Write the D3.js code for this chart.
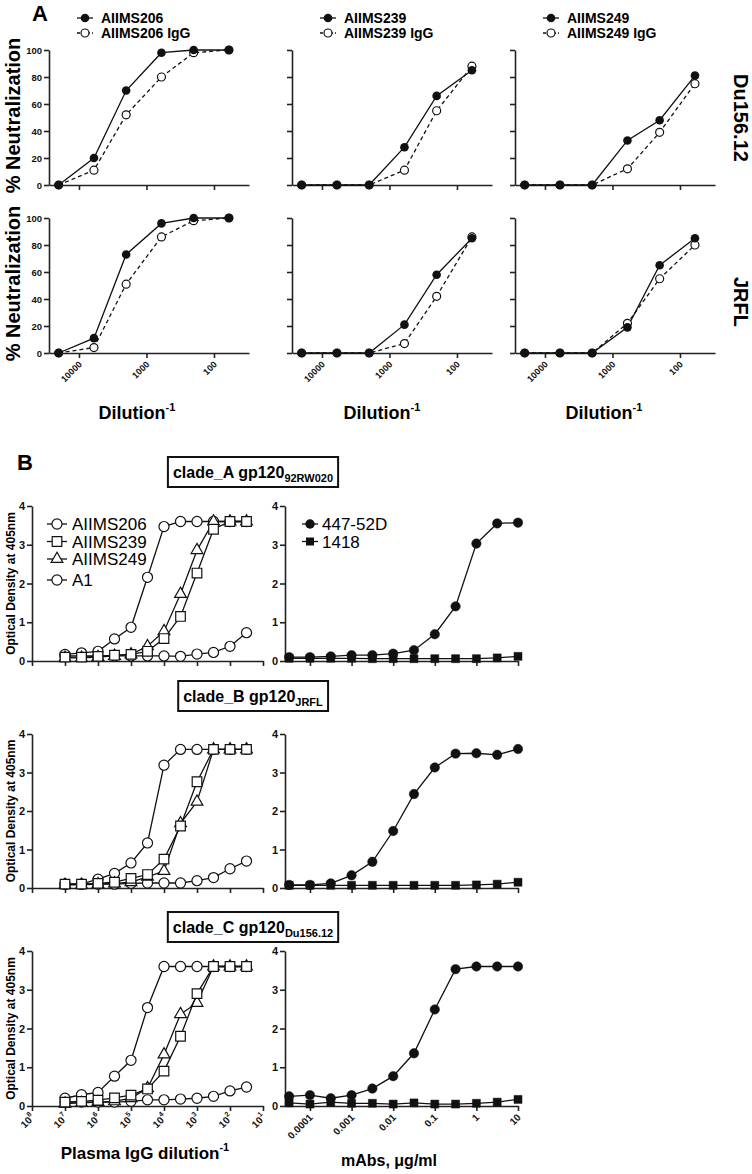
<!DOCTYPE html>
<html>
<head>
<meta charset="utf-8">
<script src="https://cdn.jsdelivr.net/npm/d3@7"></script>
<style>
  body { margin: 0; background: #fff; }
  svg { display: block; }
  text { font-family: "Liberation Sans", Arial, sans-serif; }
</style>
</head>
<body>
<script>
// ---------- panel A: % neutralization vs dilution ----------
const dilutionsA = [20000, 6000, 2000, 600, 200, 60]
const ticksA = [10000, 1000, 100]

// Du156.12 row
const du206 = [0, 20, 70, 98, 100, 100]
const du206IgG = [0, 11, 52, 80, 98, 100]
const du239 = [0, 0, 0, 28, 66, 85]
const du239IgG = [0, 0, 0, 11, 55, 88]
const du249 = [0, 0, 0, 33, 48, 81]
const du249IgG = [0, 0, 0, 12, 39, 75]
// JRFL row
const jr206 = [0, 11, 73, 96, 100, 100]
const jr206IgG = [0, 4, 51, 86, 98, 100]
const jr239 = [0, 0, 0, 21, 58, 85]
const jr239IgG = [0, 0, 0, 7, 42, 86]
const jr249 = [0, 0, 0, 19, 65, 85]
const jr249IgG = [0, 0, 0, 22, 55, 80]

// ---------- panel B: ELISA optical density ----------
const igDilutions = [1e7, 3.16e6, 1e6, 3.16e5, 1e5, 3.16e4, 1e4, 3.16e3, 1e3, 316, 100, 31.6]
const igTicks = [1e8, 1e7, 1e6, 1e5, 1e4, 1e3, 1e2, 1e1]
const mabConc = [0.0000316, 0.0001, 0.000316, 0.001, 0.00316, 0.01, 0.0316, 0.1, 0.316, 1, 3.16, 10]
const mabTicks = [0.0001, 0.001, 0.01, 0.1, 1, 10]
const mabTickLabels = ['0.0001', '0.001', '0.01', '0.1', '1', '10']

// clade_A gp120 92RW020
const odA206 = [0.17, 0.21, 0.25, 0.57, 0.87, 2.16, 3.47, 3.6, 3.6, 3.6, 3.6, 3.6]
const odA239 = [0.1, 0.1, 0.12, 0.15, 0.17, 0.25, 0.58, 1.15, 2.27, 3.4, 3.6, 3.6]
const odA249 = [0.08, 0.08, 0.1, 0.13, 0.17, 0.38, 0.77, 1.73, 2.86, 3.6, 3.6, 3.6]
const odAA1 = [0.13, 0.13, 0.13, 0.13, 0.13, 0.13, 0.13, 0.12, 0.18, 0.22, 0.38, 0.73]
const odA447 = [0.1, 0.1, 0.12, 0.15, 0.15, 0.19, 0.28, 0.69, 1.41, 3.03, 3.55, 3.57]
const odA1418 = [0.07, 0.07, 0.07, 0.07, 0.06, 0.06, 0.06, 0.06, 0.06, 0.06, 0.08, 0.12]
// clade_B gp120 JRFL
const odB206 = [0.1, 0.1, 0.23, 0.38, 0.65, 1.17, 3.19, 3.6, 3.6, 3.6, 3.6, 3.6]
const odB239 = [0.1, 0.1, 0.12, 0.15, 0.25, 0.35, 0.75, 1.61, 2.76, 3.6, 3.6, 3.6]
const odB249 = [0.08, 0.08, 0.1, 0.12, 0.15, 0.29, 0.44, 1.68, 2.24, 3.6, 3.6, 3.6]
const odBA1 = [0.1, 0.1, 0.1, 0.1, 0.12, 0.13, 0.13, 0.13, 0.19, 0.27, 0.5, 0.7]
const odB447 = [0.08, 0.08, 0.12, 0.33, 0.68, 1.48, 2.44, 3.13, 3.49, 3.5, 3.46, 3.61]
const odB1418 = [0.07, 0.07, 0.07, 0.07, 0.07, 0.07, 0.07, 0.07, 0.07, 0.08, 0.1, 0.15]
// clade_C gp120 Du156.12
const odC206 = [0.2, 0.29, 0.35, 0.77, 1.18, 2.54, 3.6, 3.6, 3.6, 3.6, 3.6, 3.6]
const odC239 = [0.1, 0.12, 0.15, 0.21, 0.28, 0.44, 0.9, 1.8, 2.9, 3.6, 3.6, 3.6]
const odC249 = [0.06, 0.08, 0.1, 0.12, 0.2, 0.46, 1.33, 2.37, 2.66, 3.6, 3.6, 3.6]
const odCA1 = [0.1, 0.1, 0.1, 0.1, 0.12, 0.16, 0.16, 0.18, 0.2, 0.25, 0.39, 0.49]
const odC447 = [0.25, 0.28, 0.2, 0.28, 0.45, 0.77, 1.36, 2.49, 3.53, 3.6, 3.6, 3.6]
const odC1418 = [0.08, 0.05, 0.1, 0.07, 0.07, 0.05, 0.08, 0.05, 0.05, 0.07, 0.1, 0.17]

const W = 752, H = 1174
const ink = '#111'

const svg = d3.select('body').append('svg')
  .attr('width', W)
  .attr('height', H)

// shared axis styling
const styleAxis = (g, size) => {
  g.attr('font-family', null).attr('font-size', null)
  g.select('.domain').attr('stroke', '#222').attr('stroke-width', 1.6)
  g.selectAll('.tick line').attr('stroke', '#222').attr('stroke-width', 1.6)
  g.selectAll('.tick text')
    .attr('fill', ink)
    .attr('font-weight', 'bold')
    .attr('font-size', size)
}

const marker = (type, size) => d3.symbol().type(type).size(size)

// ================= PANEL A =================
svg.append('text').text('A')
  .attr('x', 32).attr('y', 21)
  .attr('font-size', 22).attr('font-weight', 'bold')

const neutCharts = [
  { x0: 49, name: 'AIIMS206', rows: [[du206, du206IgG], [jr206, jr206IgG]], titleX: 137 },
  { x0: 292, name: 'AIIMS239', rows: [[du239, du239IgG], [jr239, jr239IgG]], titleX: 382 },
  { x0: 515, name: 'AIIMS249', rows: [[du249, du249IgG], [jr249, jr249IgG]], titleX: 604 }
]
const neutRows = [
  { top: 50, bot: 185, label: 'Du156.12', labelY: 118 },
  { top: 218, bot: 353, label: 'JRFL', labelY: 302 }
]

neutCharts.forEach((c, ci) => {
  const xSc = d3.scaleLog()
    .domain([10 ** 4.444, 10 ** 1.481])
    .range([c.x0, c.x0 + 200])

  neutRows.forEach((r, ri) => {
    const ySc = d3.scaleLinear().domain([0, 100]).range([r.bot, r.top])
    const g = svg.append('g')

    // axes
    g.append('g')
      .attr('transform', `translate(${c.x0},0)`)
      .call(d3.axisLeft(ySc).tickValues([0, 20, 40, 60, 80, 100])
        .tickSize(5).tickSizeOuter(0).tickPadding(2)
        .tickFormat(ci === 0 ? d3.format('d') : ''))
      .call(ax => styleAxis(ax, 9.5))

    const xa = g.append('g')
      .attr('transform', `translate(0,${r.bot})`)
      .call(d3.axisBottom(xSc).tickValues(ticksA)
        .tickSize(5).tickSizeOuter(0)
        .tickFormat(ri === 1 ? d3.format('d') : ''))
      .call(ax => styleAxis(ax, 9))
    xa.selectAll('.tick text')
      .attr('y', 0).attr('dy', 0)
      .attr('text-anchor', 'end')
      .attr('transform', 'translate(3,12) rotate(-45)')

    const [solid, dashed] = c.rows[ri]
    const line = d3.line()
      .x((d, i) => xSc(dilutionsA[i]))
      .y(d => ySc(d))

    g.append('path').datum(dashed)
      .attr('d', line).attr('fill', 'none')
      .attr('stroke', ink).attr('stroke-width', 1.3)
      .attr('stroke-dasharray', '4,3')
    g.append('path').datum(solid)
      .attr('d', line).attr('fill', 'none')
      .attr('stroke', ink).attr('stroke-width', 1.3)

    g.selectAll('.open').data(dashed).join('circle')
      .attr('class', 'open')
      .attr('cx', (d, i) => xSc(dilutionsA[i]))
      .attr('cy', d => ySc(d))
      .attr('r', 4)
      .attr('fill', '#fff').attr('stroke', ink).attr('stroke-width', 1.2)
    g.selectAll('.filled').data(solid).join('circle')
      .attr('class', 'filled')
      .attr('cx', (d, i) => xSc(dilutionsA[i]))
      .attr('cy', d => ySc(d))
      .attr('r', 4.3)
      .attr('fill', ink)

    // y title only on first column
    if (ci === 0) {
      svg.append('text').text('% Neutralization')
        .attr('transform', `translate(20,${(r.top + r.bot) / 2 - 2}) rotate(-90)`)
        .attr('text-anchor', 'middle')
        .attr('font-size', 20).attr('font-weight', 'bold')
    }
    // row label on the right
    if (ci === 2) {
      svg.append('text').text(r.label)
        .attr('transform', `translate(734,${r.labelY}) rotate(90)`)
        .attr('text-anchor', 'middle')
        .attr('font-size', 20).attr('font-weight', 'bold')
    }
  })

  // legend
  const lg = svg.append('g')
  const sx = c.x0 + 36
  lg.append('line').attr('x1', sx - 8).attr('x2', sx + 8)
    .attr('y1', 18).attr('y2', 18).attr('stroke', ink).attr('stroke-width', 1.3)
  lg.append('circle').attr('cx', sx).attr('cy', 18).attr('r', 4.3).attr('fill', ink)
  lg.append('text').text(c.name)
    .attr('x', c.x0 + 52).attr('y', 23)
    .attr('font-size', 14).attr('font-weight', 'bold')
  lg.append('line').attr('x1', sx - 8).attr('x2', sx + 8)
    .attr('y1', 33).attr('y2', 33).attr('stroke', ink).attr('stroke-width', 1.3)
    .attr('stroke-dasharray', '3,2')
  lg.append('circle').attr('cx', sx).attr('cy', 33).attr('r', 4)
    .attr('fill', '#fff').attr('stroke', ink).attr('stroke-width', 1.2)
  lg.append('text').text(c.name + ' IgG')
    .attr('x', c.x0 + 52).attr('y', 38)
    .attr('font-size', 14).attr('font-weight', 'bold')

  // x title
  const t = svg.append('text')
    .attr('x', c.titleX).attr('y', 419)
    .attr('text-anchor', 'middle')
    .attr('font-size', 18).attr('font-weight', 'bold')
  t.append('tspan').text('Dilution')
  t.append('tspan').text('-1').attr('font-size', 11).attr('dy', -8)
})

// ================= PANEL B =================
svg.append('text').text('B')
  .attr('x', 17).attr('y', 470)
  .attr('font-size', 22).attr('font-weight', 'bold')

const odRows = [
  { top: 506, bot: 661, clade: 'clade_A gp120', sub: '92RW020', boxY: 472,
    left: [odA206, odA239, odA249, odAA1], right: [odA447, odA1418] },
  { top: 734, bot: 888, clade: 'clade_B gp120', sub: 'JRFL', boxY: 696,
    left: [odB206, odB239, odB249, odBA1], right: [odB447, odB1418] },
  { top: 951, bot: 1106, clade: 'clade_C gp120', sub: 'Du156.12', boxY: 927,
    left: [odC206, odC239, odC249, odCA1], right: [odC447, odC1418] }
]

const leftNames = ['AIIMS206', 'AIIMS239', 'AIIMS249', 'A1']
const leftShapes = [
  marker(d3.symbolCircle, 80),
  marker(d3.symbolSquare, 92),
  marker(d3.symbolTriangle, 60),
  marker(d3.symbolCircle, 80)
]
const rightNames = ['447-52D', '1418']
const rightShapes = [marker(d3.symbolCircle, 70), marker(d3.symbolSquare, 64)]

const xLeft = d3.scaleLog().domain([1e8, 1e1]).range([32, 263])
const xRight = d3.scaleLog().domain([10 ** -4.6, 10]).range([285, 518])

odRows.forEach((r, ri) => {
  const ySc = d3.scaleLinear().domain([0, 4]).range([r.bot, r.top])
  const last = ri === odRows.length - 1

  // boxed clade title
  const bt = svg.append('text')
    .attr('x', 253).attr('y', r.boxY + 6)
    .attr('text-anchor', 'middle')
    .attr('font-size', 16).attr('font-weight', 'bold')
  bt.append('tspan').text(r.clade)
  bt.append('tspan').text(r.sub).attr('font-size', 11).attr('dy', 4)
  const bb = bt.node().getBBox()
  svg.insert('rect', 'text')
    .attr('x', bb.x - 5).attr('y', r.boxY - 15)
    .attr('width', bb.width + 10).attr('height', 30)
    .attr('fill', '#fff').attr('stroke', ink).attr('stroke-width', 2)

  // y axis title
  svg.append('text').text('Optical Density at 405nm')
    .attr('transform', `translate(15,${(r.top + r.bot) / 2}) rotate(-90)`)
    .attr('text-anchor', 'middle')
    .attr('font-size', 12).attr('font-weight', 'bold')

  const panels = [
    { xSc: xLeft, xs: igDilutions, series: r.left, shapes: leftShapes, filled: false,
      ticks: igTicks, x0: 32 },
    { xSc: xRight, xs: mabConc, series: r.right, shapes: rightShapes, filled: true,
      ticks: mabTicks, x0: 285 }
  ]

  panels.forEach((p, pi) => {
    const g = svg.append('g')
    g.append('g')
      .attr('transform', `translate(${p.x0},0)`)
      .call(d3.axisLeft(ySc).tickValues([0, 1, 2, 3, 4])
        .tickSize(5).tickSizeOuter(0).tickPadding(2)
        .tickFormat(d3.format('d')))
      .call(ax => styleAxis(ax, 11))

    const xa = g.append('g')
      .attr('transform', `translate(0,${r.bot})`)
      .call(d3.axisBottom(p.xSc).tickValues(p.ticks)
        .tickSize(5).tickSizeOuter(0).tickFormat(''))
      .call(ax => styleAxis(ax, 10))

    if (last) {
      xa.selectAll('.tick text')
        .attr('y', 0).attr('dy', 0)
        .attr('text-anchor', 'end')
        .attr('transform', 'translate(3,12) rotate(-45)')
        .each(function (d, i) {
          const s = d3.select(this)
          if (pi === 0) {
            s.append('tspan').text('10')
            s.append('tspan').text(Math.round(Math.log10(d)))
              .attr('font-size', 7).attr('dy', -5)
          } else {
            s.text(mabTickLabels[i])
          }
        })
    }

    // lines then markers, later series drawn on top
    const order = pi === 0 ? [3, 0, 2, 1] : [1, 0]
    order.forEach(si => {
      const vals = p.series[si]
      const line = d3.line()
        .x((d, i) => p.xSc(p.xs[i]))
        .y(d => ySc(d))
      g.append('path').datum(vals)
        .attr('d', line).attr('fill', 'none')
        .attr('stroke', ink).attr('stroke-width', 1.3)
      g.selectAll(null).data(vals).join('path')
        .attr('transform', (d, i) => `translate(${p.xSc(p.xs[i])},${ySc(d)})`)
        .attr('d', p.shapes[si])
        .attr('fill', p.filled ? ink : '#fff')
        .attr('stroke', ink)
        .attr('stroke-width', p.filled ? 0.5 : 1.2)
    })
  })

  // legends on first row
  if (ri === 0) {
    const lg = svg.append('g')
    const ly = [524, 541.5, 559, 580]
    leftNames.forEach((n, i) => {
      lg.append('line').attr('x1', 47).attr('x2', 67)
        .attr('y1', ly[i]).attr('y2', ly[i])
        .attr('stroke', ink).attr('stroke-width', 1.3)
      lg.append('path').attr('d', leftShapes[i])
        .attr('transform', `translate(57,${ly[i]})`)
        .attr('fill', '#fff').attr('stroke', ink).attr('stroke-width', 1.2)
      lg.append('text').text(n)
        .attr('x', 72).attr('y', ly[i] + 6)
        .attr('font-size', 17)
    })
    rightNames.forEach((n, i) => {
      lg.append('line').attr('x1', 302).attr('x2', 318)
        .attr('y1', ly[i]).attr('y2', ly[i])
        .attr('stroke', ink).attr('stroke-width', 1.3)
      lg.append('path').attr('d', rightShapes[i])
        .attr('transform', `translate(310,${ly[i]})`)
        .attr('fill', ink)
      lg.append('text').text(n)
        .attr('x', 322).attr('y', ly[i] + 6)
        .attr('font-size', 17)
    })
  }
})

// bottom axis titles
const xt = svg.append('text')
  .attr('x', 145).attr('y', 1159)
  .attr('text-anchor', 'middle')
  .attr('font-size', 17).attr('font-weight', 'bold')
xt.append('tspan').text('Plasma IgG dilution')
xt.append('tspan').text('-1').attr('font-size', 11).attr('dy', -8)

svg.append('text').text('mAbs, \u03bcg/ml')
  .attr('x', 389).attr('y', 1166)
  .attr('text-anchor', 'middle')
  .attr('font-size', 16).attr('font-weight', 'bold')
</script>
</body>
</html>
